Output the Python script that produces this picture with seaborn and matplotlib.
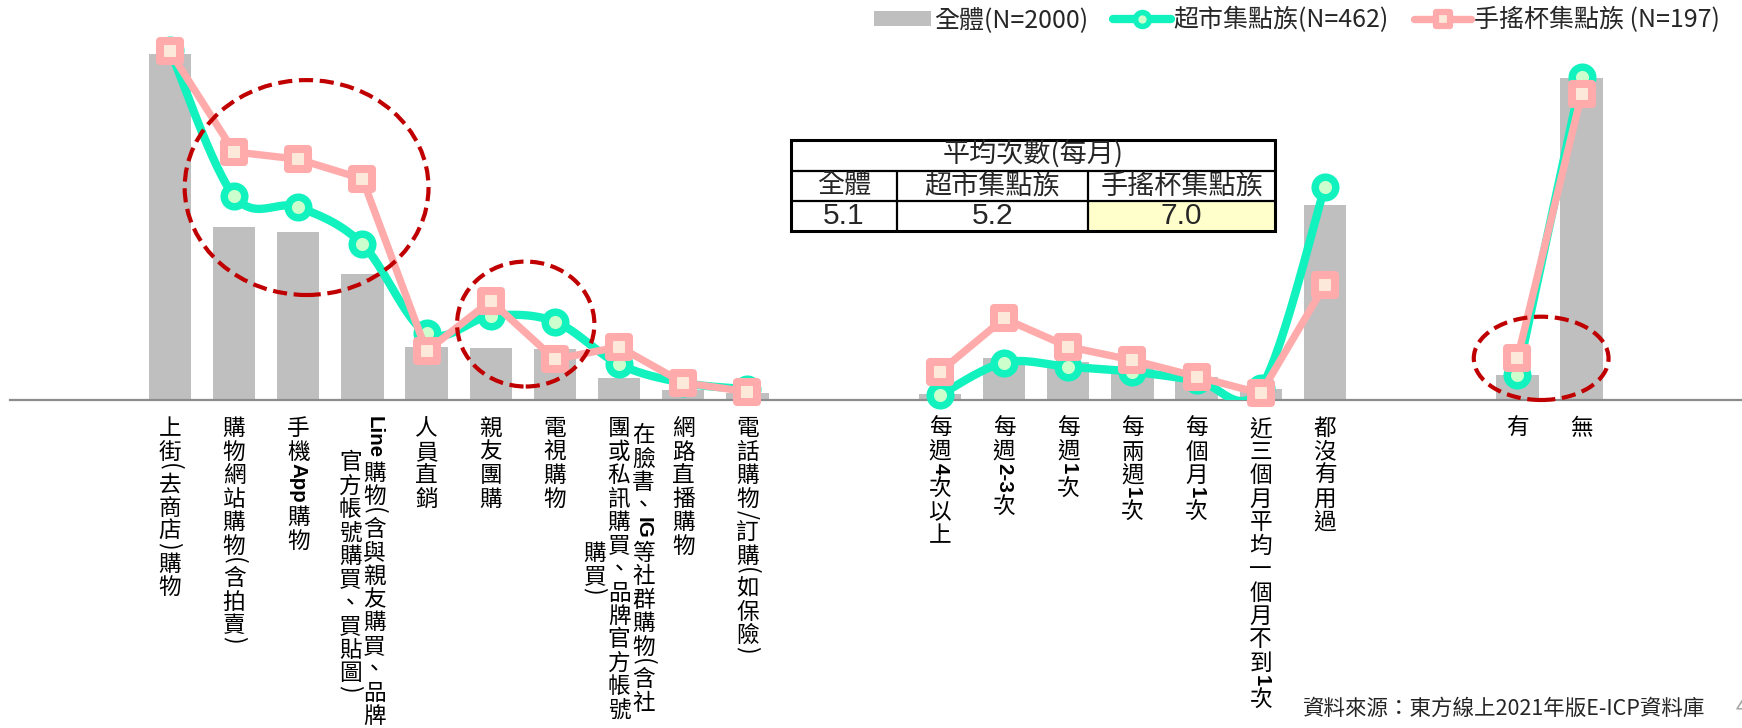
import re
import numpy as np
import pandas as pd
import matplotlib
matplotlib.use("Agg")
import matplotlib.pyplot as plt
import seaborn as sns
from matplotlib.patches import Ellipse, Rectangle, Patch
from matplotlib.lines import Line2D
from matplotlib.markers import MarkerStyle
from matplotlib.font_manager import FontProperties
from matplotlib.textpath import TextToPath

# ---------------- data ----------------
channel_labels = [
    "上街(去商店)購物",
    "購物網站購物(含拍賣)",
    "手機App購物",
    "Line購物(含與親友購買、品牌\n官方帳號購買、買貼圖)",
    "人員直銷",
    "親友團購",
    "電視購物",
    "在臉書、IG等社群購物(含社\n團或私訊購買、品牌官方帳號\n購買)",
    "網路直播購物",
    "電話購物/訂購(如保險)",
]
freq_labels = ["每週4次以上", "每週2-3次", "每週1次", "每兩週1次", "每個月1次",
               "近三個月平均一個月不到1次", "都沒有用過"]
usage_labels = ["有", "無"]

overall_channel = [99.0, 49.5, 48.0, 36.0, 15.2, 14.8, 14.5, 6.2, 2.9, 1.9]
market_channel = [100.0, 58.3, 55.1, 44.5, 19.1, 24.0, 22.4, 10.2, 4.9, 3.1]
drink_channel = [99.6, 70.9, 68.8, 63.2, 14.0, 28.3, 11.6, 15.2, 4.9, 2.4]

overall_freq = [1.6, 12.1, 10.9, 9.8, 6.5, 3.1, 55.7]
market_freq = [1.4, 10.7, 9.5, 8.1, 5.7, 3.4, 60.9]
drink_freq = [8.1, 23.3, 15.2, 11.4, 6.7, 1.9, 32.9]

overall_usage = [7.1, 91.9]
market_usage = [7.1, 92.4]
drink_usage = [11.9, 87.4]

series_names = ["全體(N=2000)", "超市集點族(N=462)", "手搖杯集點族 (N=197)"]
table_title = "平均次數(每月)"
table_headers = ["全體", "超市集點族", "手搖杯集點族"]
table_values = [5.1, 5.2, 7.0]
source_note = "資料來源：東方線上2021年版E-ICP資料庫"
page_no = "4"

# ---------------- styling ----------------
sns.set_style("white")
CJK = "Noto Sans CJK TC"
plt.rcParams["font.family"] = [CJK, "DejaVu Sans"]

BAR = "#BFBFBF"
TEAL = "#12F2BF"
TEAL_FACE = "#CCFFCC"
PINK = "#FFABAB"
PINK_FACE = "#FDE9D9"
RING = "#C00000"

W, H = 1742, 728
fig = plt.figure(figsize=(W / 100, H / 100), dpi=100)
ax = fig.add_axes([9.5 / W, 328 / H, 1 - 9.5 / W, 400 / H])

# ---------------- assemble long table with slot positions ----------------
groups = [
    ("channel", channel_labels, overall_channel, market_channel, drink_channel),
    ("freq", freq_labels, overall_freq, market_freq, drink_freq),
    ("usage", usage_labels, overall_usage, market_usage, drink_usage),
]
GAP = 2
rows = []
start = 0
for name, labels, ov, mk, dr in groups:
    for i, lab in enumerate(labels):
        rows.append(dict(group=name, pos=start + i, label=lab,
                         overall=ov[i], market=mk[i], drink=dr[i]))
    start += len(labels) + GAP
df = pd.DataFrame(rows)

# ---------------- bars ----------------
sns.barplot(data=df, x="pos", y="overall", native_scale=True, width=0.66,
            color=BAR, saturation=1, linewidth=0, errorbar=None, ax=ax, zorder=1)


# ---------------- smoothed line for the supermarket series ----------------
def smooth_curve(xs, ys, n=30):
    xs = np.asarray(xs, float)
    ys = np.asarray(ys, float)
    if len(xs) < 3:
        return xs, ys
    px = np.r_[xs[0], xs, xs[-1]]
    py = np.r_[ys[0], ys, ys[-1]]
    t = np.linspace(0, 1, n)[:, None]
    out = []
    for i in range(len(xs) - 1):
        p0 = np.array([px[i], py[i]])
        p1 = np.array([px[i + 1], py[i + 1]])
        p2 = np.array([px[i + 2], py[i + 2]])
        p3 = np.array([px[i + 3], py[i + 3]])
        c1 = p1 + (p2 - p0) / 6
        c2 = p2 - (p3 - p1) / 6
        seg = ((1 - t) ** 3) * p1 + 3 * ((1 - t) ** 2) * t * c1 + 3 * (1 - t) * t ** 2 * c2 + t ** 3 * p2
        out.append(seg if i == 0 else seg[1:])
    out = np.vstack(out)
    return out[:, 0], out[:, 1]


for name, sub in df.groupby("group", sort=False):
    sx, sy = smooth_curve(sub["pos"], sub["market"])
    ax.plot(sx, sy, color=TEAL, lw=6, solid_capstyle="round", zorder=3)
    ax.plot(sub["pos"], sub["market"], ls="none", marker="o", ms=14.8, mew=5.4,
            mfc=TEAL_FACE, mec=TEAL, zorder=4, clip_on=False)

# ---------------- straight line for the drink-shop series ----------------
sq = MarkerStyle("s", joinstyle="round")
sns.lineplot(data=df, x="pos", y="drink", units="group", estimator=None, sort=True,
             color=PINK, lw=5.3, marker=sq, ms=13.7, mew=5.8, mfc=PINK_FACE,
             mec=PINK, legend=False, ax=ax, zorder=5, clip_on=False)

# ---------------- highlight rings ----------------
for cx, cy, ew, eh in [(2.13, 60.7, 3.80, 61.4), (5.545, 21.7, 2.14, 35.7),
                       (21.37, 11.9, 2.10, 23.8)]:
    ax.add_patch(Ellipse((cx, cy), ew, eh, fill=False, ec=RING, lw=3,
                         ls=(0, (3.4, 1.6)), zorder=6, clip_on=False))

# ---------------- axes cosmetics ----------------
ax.set_xlim(-2.5, 24.5)
ax.set_ylim(0, 400 / 3.5)
ax.set_xticks(np.arange(-2.5, 25, 1))
ax.set_yticks([])
ax.tick_params(axis="x", direction="out", length=6, width=1.2, color="#8C8C8C",
               labelbottom=False)
for side in ("left", "top", "right"):
    ax.spines[side].set_visible(False)
ax.spines["bottom"].set_color("#8C8C8C")
ax.spines["bottom"].set_linewidth(1.6)
ax.set_xlabel("")
ax.set_ylabel("")

# ---------------- vertical category labels ----------------
LSIZE = 16.3
PITCH = 16.9
COLGAP = 17.5
TOP = 11.0
cjk_prop = FontProperties(family=CJK, weight="light", size=LSIZE)
latin_prop = FontProperties(family="Liberation Sans", weight="bold", size=LSIZE - 1.5)
rot_prop = FontProperties(family=CJK, weight="light", size=LSIZE)
ttp = TextToPath()


def tokenize(s):
    out = []
    for m in re.finditer(r"[A-Za-z0-9\-]+|[()/]|.", s):
        tok = m.group()
        if re.fullmatch(r"[A-Za-z0-9\-]+", tok):
            w = ttp.get_text_width_height_descent(tok, latin_prop, ismath=False)[0]
            out.append((tok, "latin", w + 1.5))
        elif tok in "()/":
            w = ttp.get_text_width_height_descent(tok, rot_prop, ismath=False)[0]
            out.append((tok, "rot", w + 1.0))
        else:
            out.append((tok, "cjk", PITCH))
    return out


def draw_vertical_label(x, text):
    cols = [tokenize(c) for c in text.split("\n")]
    lens = [sum(t[2] for t in c) for c in cols]
    longest = max(lens)
    n = len(cols)
    for ci, (col, ln) in enumerate(zip(cols, lens)):
        dx = ((n - 1) / 2 - ci) * COLGAP
        cur = TOP + (longest - ln) / 2
        for tok, kind, adv in col:
            if kind == "cjk":
                ax.annotate(tok, xy=(x, 0), xycoords=ax.get_xaxis_transform(),
                            xytext=(dx, -(cur + 0.88 * LSIZE)), textcoords="offset points",
                            ha="center", va="baseline", fontproperties=cjk_prop,
                            annotation_clip=False, color="black")
            else:
                prop = latin_prop if kind == "latin" else rot_prop
                ax.annotate(tok, xy=(x, 0), xycoords=ax.get_xaxis_transform(),
                            xytext=(dx, -(cur + adv / 2)), textcoords="offset points",
                            ha="center", va="center", rotation=-90,
                            fontproperties=prop, annotation_clip=False, color="black")
            cur += adv


for _, r in df.iterrows():
    draw_vertical_label(r["pos"], r["label"])

# ---------------- legend ----------------
handles = [
    Patch(facecolor=BAR, edgecolor="none"),
    Line2D([], [], color=TEAL, lw=6, marker="o", ms=10, mew=4, mfc=TEAL_FACE, mec=TEAL),
    Line2D([], [], color=PINK, lw=5.3, marker=sq, ms=9.5, mew=4.5, mfc=PINK_FACE, mec=PINK),
]
fig.legend(handles, series_names, loc="upper right", bbox_to_anchor=(1724 / W, 1 - 3 / H),
           ncol=3, frameon=False, fontsize=18, handlelength=2.3, handleheight=0.55,
           handletextpad=0.12, columnspacing=1.0, borderaxespad=0.0, borderpad=0.15)

# ---------------- summary table ----------------
tx0, tx1, ty0, ty1 = 791, 1275, 139.5, 230.5
tax = fig.add_axes([tx0 / W, 1 - ty1 / H, (tx1 - tx0) / W, (ty1 - ty0) / H])
tw, th = tx1 - tx0, ty1 - ty0
tax.set_xlim(0, tw)
tax.set_ylim(th, 0)
tax.axis("off")
r1, r2 = 31.2, 61.0
c1, c2 = 106.0, 297.0
tax.add_patch(Rectangle((c2, r2), tw - c2, th - r2, fc="#FFFFCC", ec="none", zorder=0))
tax.plot([c1, c1], [r1, th], color="black", lw=1.6, clip_on=False)
tax.plot([c2, c2], [r1, th], color="black", lw=1.6, clip_on=False)
tax.plot([0, tw], [r1, r1], color="black", lw=1.6, clip_on=False)
tax.plot([0, tw], [r2, r2], color="black", lw=1.6, clip_on=False)
tax.add_patch(Rectangle((0, 0), tw, th, fill=False, ec="black", lw=2.2, clip_on=False, zorder=3))
tax.text(tw / 2, r1 / 2, table_title, ha="center", va="center", fontsize=19.5)
col_edges = [0, c1, c2, tw]
for i, (hd, v) in enumerate(zip(table_headers, table_values)):
    cx = (col_edges[i] + col_edges[i + 1]) / 2
    tax.text(cx, (r1 + r2) / 2, hd, ha="center", va="center", fontsize=19.5)
    tax.text(cx, (r2 + th) / 2 + 1, f"{v:.1f}", ha="center", va="center",
             fontsize=21.5, family="Liberation Sans")

# ---------------- footnote ----------------
fig.text(1705 / W, 1 - 708.5 / H, source_note, ha="right", va="center", fontsize=15.5)
fig.text(1736 / W, 1 - 708.5 / H, page_no, ha="left", va="center", fontsize=15.5,
         color="#A6A6A6")

fig.savefig("out.png", dpi=100)
